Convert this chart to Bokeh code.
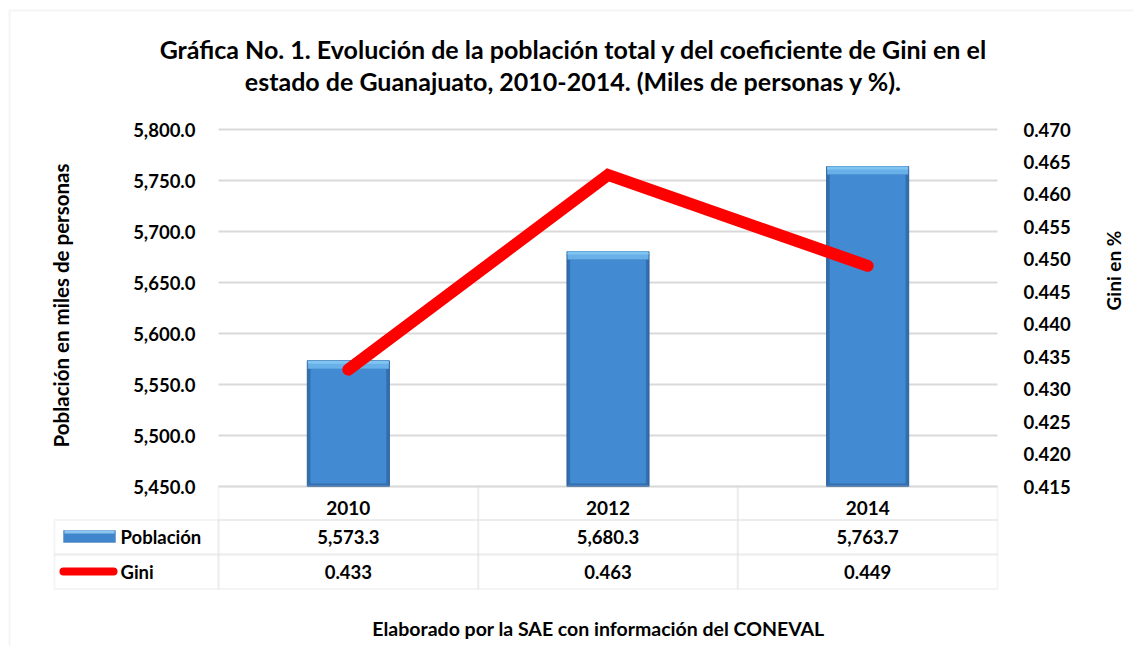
import math
from bokeh.plotting import figure
from bokeh.models import (Range1d, LinearAxis, FixedTicker, NumeralTickFormatter,
                          Label, BoxAnnotation)
from bokeh.embed import file_html
from bokeh.resources import INLINE

# ---- data ----
years = ["2010", "2012", "2014"]
poblacion = [5573.3, 5680.3, 5763.7]
gini = [0.433, 0.463, 0.449]
left_ticks = [5450, 5500, 5550, 5600, 5650, 5700, 5750, 5800]
right_ticks = [0.415, 0.420, 0.425, 0.430, 0.435, 0.440, 0.445, 0.450, 0.455, 0.460, 0.465, 0.470]
title_lines = ["Gráfica No. 1. Evolución de la población total y del coeficiente de Gini en el",
               "estado de Guanajuato, 2010-2014. (Miles de personas y %)."]
footer = "Elaborado por la SAE con información del CONEVAL"
row_names = ["Población", "Gini"]
y_title = "Población en miles de personas"
y2_title = "Gini en %"

FONT = "Lato"
W, H = 1133, 646
# plot-area geometry in canvas pixels
FL, FR, FT, FB = 218, 997, 129, 486
YMIN, YMAX = left_ticks[0], left_ticks[-1]
GMIN, GMAX = right_ticks[0], right_ticks[-1]
NCAT = len(years)
xs = [i + 0.5 for i in range(NCAT)]


def dx(px):
    return (px - FL) / (FR - FL) * NCAT


def dy(py):
    return YMIN + (FB - py) / (FB - FT) * (YMAX - YMIN)


def gy(py):
    return GMIN + (FB - py) / (FB - FT) * (GMAX - GMIN)


PXY = (YMAX - YMIN) / (FB - FT)   # data units per pixel (left axis)

p = figure(width=W, height=H, x_range=Range1d(dx(0), dx(W)),
           y_range=Range1d(dy(H), dy(0)), output_backend="svg", toolbar_location=None,
           min_border=0)
p.outline_line_color = None
p.background_fill_color = "white"
p.border_fill_color = "white"
p.extra_y_ranges = {"gini": Range1d(gy(H), gy(0))}

GRID = "#d9d9d9"
# grid limited to the plot area
p.xgrid.grid_line_color = None
p.ygrid.ticker = FixedTicker(ticks=left_ticks)
try:
    p.ygrid.cross_bounds = (0, NCAT)
    p.ygrid.grid_line_color = GRID
    p.ygrid.grid_line_width = 2
except Exception:
    p.ygrid.grid_line_color = None
    p.segment(x0=[0] * len(left_ticks), x1=[NCAT] * len(left_ticks), y0=left_ticks,
              y1=left_ticks, line_color=GRID, line_width=2)

TICK_FS = "18.5px"

# left axis, drawn at the plot-area edge
ya = p.yaxis[0]
ya.fixed_location = 0
ya.ticker = FixedTicker(ticks=left_ticks)
ya.formatter = NumeralTickFormatter(format="0,0.0")
ya.axis_line_color = None
ya.major_tick_line_color = None
ya.minor_tick_line_color = None
ya.major_label_standoff = 17
ya.major_label_text_font = FONT
ya.major_label_text_font_style = "bold"
ya.major_label_text_font_size = TICK_FS
ya.major_label_text_color = "black"

# right axis
ra = LinearAxis(y_range_name="gini", ticker=FixedTicker(ticks=right_ticks),
                formatter=NumeralTickFormatter(format="0.000"), fixed_location=NCAT)
ra.axis_line_color = None
ra.major_tick_line_color = None
ra.minor_tick_line_color = None
ra.major_label_standoff = 20
ra.major_label_text_font = FONT
ra.major_label_text_font_style = "bold"
ra.major_label_text_font_size = TICK_FS
ra.major_label_text_color = "black"
p.add_layout(ra, "right")

# x axis (years as table header)
xa = p.xaxis[0]
xa.fixed_location = YMIN
xa.ticker = FixedTicker(ticks=xs)
xa.major_label_overrides = {x: y for x, y in zip(xs, years)}
xa.axis_line_color = None
xa.major_tick_line_color = None
xa.minor_tick_line_color = None
xa.major_label_standoff = 8
xa.major_label_text_font = FONT
xa.major_label_text_font_style = "bold"
xa.major_label_text_font_size = "19px"
xa.major_label_text_color = "black"

# axis titles
p.add_layout(Label(x=dx(60), y=dy(305), text=y_title, angle=math.pi / 2,
                   text_align="center", text_baseline="middle", text_font=FONT,
                   text_font_style="bold", text_font_size="20.5px", text_color="black"))
p.add_layout(Label(x=dx(1113), y=dy(270), text=y2_title, angle=math.pi / 2,
                   text_align="center", text_baseline="middle", text_font=FONT,
                   text_font_style="bold", text_font_size="19px", text_color="black"))

# bars (bevel look)
BW = 0.316
p.vbar(x=xs, top=poblacion, bottom=YMIN, width=BW, fill_color="#336fb0",
       line_color="#2b5f97", line_width=1)
inner_top = [v - 8 * PXY for v in poblacion]
p.vbar(x=xs, top=inner_top, bottom=YMIN + 3 * PXY, width=BW - 0.024,
       fill_color="#428bd2", line_color=None)
bevel_bottom = [v - 8 * PXY for v in poblacion]
p.vbar(x=xs, top=poblacion, bottom=bevel_bottom, width=BW - 0.004,
       fill_color="#68b0e8", line_color=None)
bevel_hi = [v - 3 * PXY for v in poblacion]
p.vbar(x=xs, top=poblacion, bottom=bevel_hi, width=BW - 0.004,
       fill_color="#80c4f2", line_color=None)

# Gini line
p.line(x=xs, y=gini, y_range_name="gini", line_color="#ff0000", line_width=12,
       line_cap="round", line_join="miter")

# ---- outer chart border ----
p.add_layout(BoxAnnotation(left=dx(9), right=dx(1200), top=dy(10), bottom=dy(700),
                           fill_color=None, line_color=GRID, line_width=2))

# ---- data table ----
row_edges = [486, 519.5, 554, 588.5]
col_edges = [54, 218, 477.7, 737.3, 997]
for r in range(3):
    for c in range(4):
        if r == 0 and c == 0:
            continue
        p.add_layout(BoxAnnotation(left=dx(col_edges[c]), right=dx(col_edges[c + 1]),
                                   top=dy(row_edges[r]), bottom=dy(row_edges[r + 1]),
                                   fill_color=None, line_color=GRID, line_width=2))

row_values = [["{:,.1f}".format(v) for v in poblacion], ["{:.3f}".format(v) for v in gini]]
for r, vals in enumerate(row_values):
    yc = dy((row_edges[r + 1] + row_edges[r + 2]) / 2)
    for i, t in enumerate(vals):
        p.add_layout(Label(x=xs[i], y=yc, text=t, text_align="center",
                           text_baseline="middle", text_font=FONT, text_font_style="bold",
                           text_font_size="18.5px", text_color="black"))
    p.add_layout(Label(x=dx(120), y=yc, text=row_names[r], text_align="left",
                       text_baseline="middle", text_font=FONT, text_font_style="bold",
                       text_font_size="18.5px", text_color="black"))

# legend swatches in table
p.add_layout(BoxAnnotation(left=dx(63), right=dx(115), top=dy(530), bottom=dy(542),
                           fill_color="#3f86cc", fill_alpha=1, line_color="#2a5f98",
                           line_width=1))
p.add_layout(BoxAnnotation(left=dx(64), right=dx(114), top=dy(530), bottom=dy(533),
                           fill_color="#8cc6f0", fill_alpha=1, line_color=None))
p.add_layout(BoxAnnotation(left=dx(59), right=dx(117), top=dy(567), bottom=dy(575),
                           fill_color="#ff0000", fill_alpha=1, line_color=None,
                           border_radius=4))

# ---- titles ----
for i, t in enumerate(title_lines):
    p.add_layout(Label(x=dx(573), y=dy(48 + 32 * i), text=t, text_align="center",
                       text_baseline="middle", text_font=FONT, text_font_style="bold",
                       text_font_size="25px", text_color="black"))
p.add_layout(Label(x=dx(598), y=dy(628), text=footer, text_align="center",
                   text_baseline="middle", text_font=FONT, text_font_style="bold",
                   text_font_size="19.5px", text_color="black"))

open("out.html", "w").write(file_html(p, INLINE))
